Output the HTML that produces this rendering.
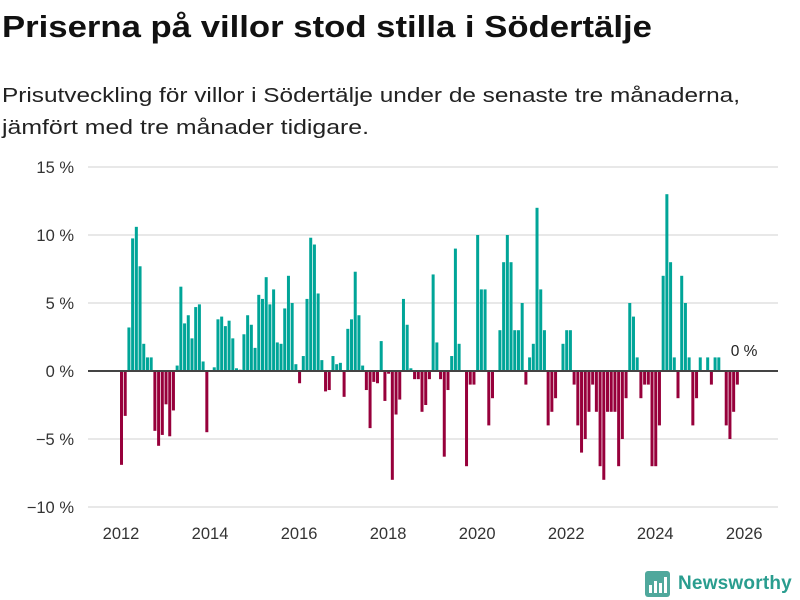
<!DOCTYPE html>
<html><head><meta charset="utf-8">
<style>
body{margin:0;width:800px;height:600px;background:#fff;font-family:"Liberation Sans",sans-serif;overflow:hidden;position:relative}
svg{position:absolute;left:0;top:0}
.logo{position:absolute;left:645px;top:571px;display:flex;align-items:center}
.logo span{font-size:19px;font-weight:bold;color:#2a9d8f;margin-left:8px;letter-spacing:0.2px}
</style></head><body>
<svg id="chart" width="800" height="600">
<text x="2" y="37" font-size="31" font-weight="bold" fill="#111" font-family="Liberation Sans, sans-serif" textLength="650" lengthAdjust="spacingAndGlyphs">Priserna på villor stod stilla i Södertälje</text>
<text x="2" y="102" font-size="20.5" fill="#222" font-family="Liberation Sans, sans-serif" textLength="738" lengthAdjust="spacingAndGlyphs">Prisutveckling för villor i Södertälje under de senaste tre månaderna,</text>
<text x="2" y="134" font-size="20.5" fill="#222" font-family="Liberation Sans, sans-serif" textLength="367" lengthAdjust="spacingAndGlyphs">jämfört med tre månader tidigare.</text>
</svg>
<div class="logo">
<svg width="25" height="26" style="position:static"><rect x="0" y="0" width="25" height="26" rx="3" fill="#4fa89c"/><rect x="4" y="14" width="3" height="8" fill="#fff"/><rect x="9" y="10" width="3" height="12" fill="#fff"/><rect x="14" y="12" width="3" height="10" fill="#fff"/><rect x="19" y="6" width="3" height="16" fill="#fff"/></svg>
<span>Newsworthy</span></div>
<script>
const values=[-6.9,-3.3,3.2,9.75,10.6,7.7,2.0,1.0,1.0,-4.4,-5.5,-4.7,-2.45,-4.8,-2.9,0.4,6.2,3.5,4.1,2.4,4.7,4.9,0.7,-4.5,
0,0.27,3.8,4.0,3.3,3.7,2.4,0.2,0.1,2.7,4.1,3.4,1.7,5.6,5.3,6.9,4.9,6.0,2.1,2.0,4.6,7.0,5.0,0.5,
-0.9,1.1,5.3,9.8,9.3,5.7,0.8,-1.5,-1.4,1.1,0.5,0.6,-1.9,3.1,3.8,7.3,4.1,0.4,-1.4,-4.2,-0.8,-0.9,2.2,-2.2,
-0.2,-8.0,-3.2,-2.1,5.3,3.4,0.2,-0.6,-0.6,-3.0,-2.5,-0.6,7.1,2.1,-0.6,-6.3,-1.4,1.1,9.0,2.0,0,-7.0,-1.0,-1.0,
10.0,6.0,6.0,-4.0,-2.0,0,3.0,8.0,10.0,8.0,3.0,3.0,5.0,-1.0,1.0,2.0,12.0,6.0,3.0,-4.0,-3.0,-2.0,0,2.0,
3.0,3.0,-1.0,-4.0,-6.0,-5.0,-3.0,-1.0,-3.0,-7.0,-8.0,-3.0,-3.0,-3.0,-7.0,-5.0,-2.0,5.0,4.0,1.0,-2.0,-1.0,-1.0,-7.0,
-7.0,-4.0,7.0,13.0,8.0,1.0,-2.0,7.0,5.0,1.0,-4.0,-2.0,1.0,0,1.0,-1.0,1.0,1.0,0,-4.0,-5.0,-3.0,-1.0,0];
const yTicks=[15,10,5,0,-5,-10];
const xTickYears=[2012,2014,2016,2018,2020,2022,2024,2026];
const startYear=2012;
const lastLabel="0 %";

const svg=document.getElementById('chart');
const NS='http://www.w3.org/2000/svg';
const y=v=>371-v*13.6;
const x=m=>121.5+m*3.71;
function mk(t,a){const e=document.createElementNS(NS,t);for(const k in a)e.setAttribute(k,a[k]);svg.appendChild(e);return e;}
yTicks.forEach(t=>{
  if(t!==0){const g=mk('line',{x1:88,x2:778,y1:y(t),y2:y(t),stroke:'#e0e0e0','stroke-width':1.5});
  
  }
  const l=mk('text',{x:74,y:y(t)+6,'text-anchor':'end','font-size':16.5,fill:'#333','font-family':'Liberation Sans, sans-serif'});
  l.textContent=(t<0?'\u2212'+(-t):t)+' %';
  
  
});
xTickYears.forEach(yr=>{
  const l=mk('text',{x:x((yr-startYear)*12)-0.5,y:539,'text-anchor':'middle','font-size':16.5,fill:'#333','font-family':'Liberation Sans, sans-serif'});
  l.textContent=yr;
  
  
});
values.forEach((v,i)=>{
  if(v===0)return;
  const y0=y(0),y1=y(v);
  const r=mk('rect',{x:x(i)-1.5,y:Math.min(y0,y1),width:3,height:Math.abs(y1-y0),fill:v>0?'#00a598':'#97003b'});
  
  
});
const zl=mk('line',{x1:88,x2:778,y1:y(0),y2:y(0),stroke:'#444','stroke-width':2});


const lb=mk('text',{x:x(values.length-1)+3,y:y(values[values.length-1])-15,'text-anchor':'middle','font-size':15.5,fill:'#222','font-family':'Liberation Sans, sans-serif'});
lb.textContent=lastLabel;


</script>
</body></html>
